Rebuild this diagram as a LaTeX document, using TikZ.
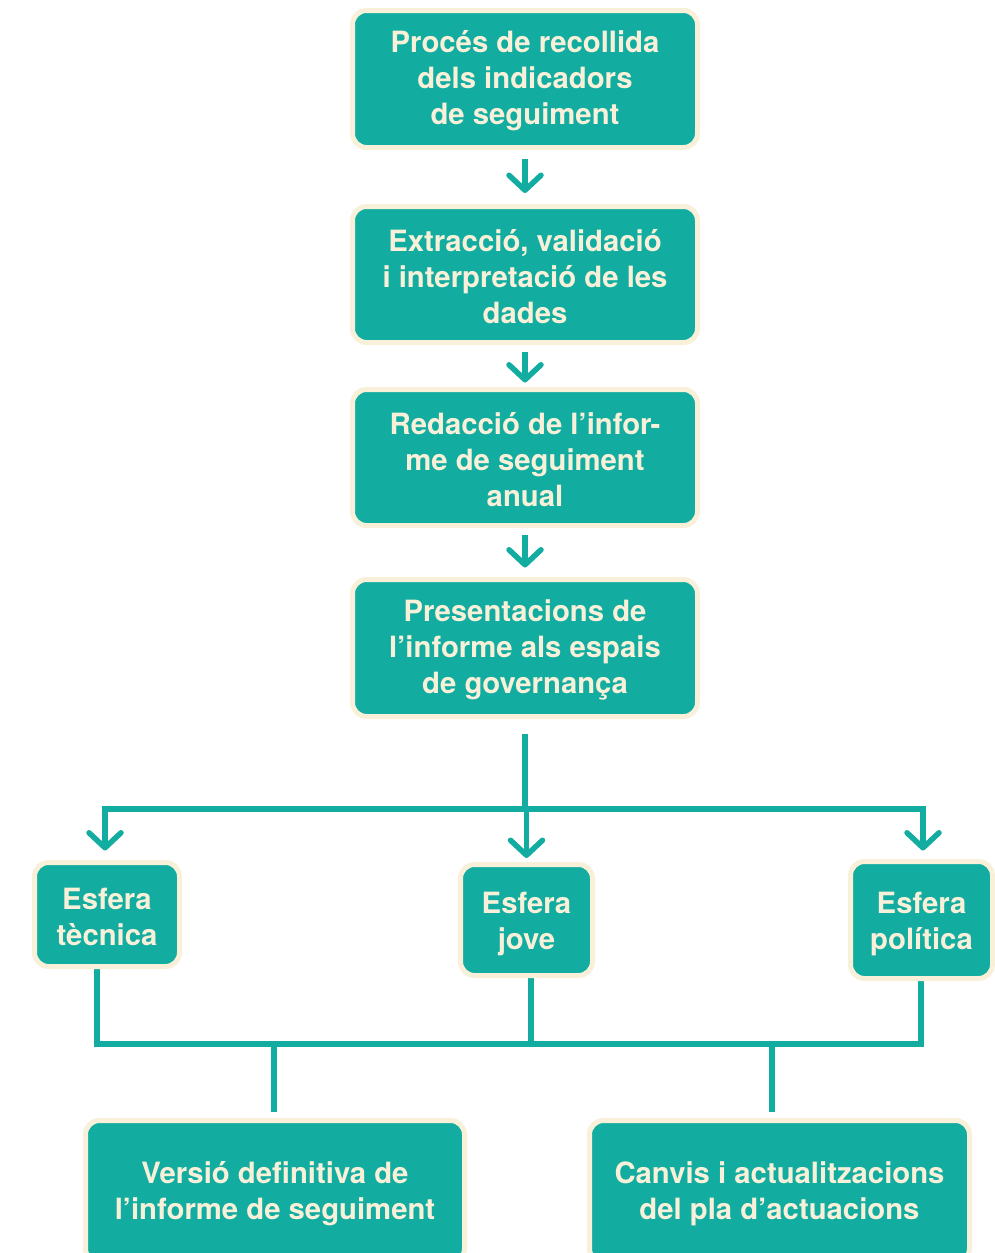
\documentclass[tikz,border=0pt]{standalone}
\usepackage{fontspec}
\setmainfont{TeX Gyre Heros}
\usetikzlibrary{arrows.meta,calc}
\definecolor{teal0}{HTML}{12ADA0}
\definecolor{cream}{HTML}{F8F0D9}
\pgfdeclarelayer{bg}
\pgfsetlayers{bg,main}
\tikzset{
  box/.style={draw=cream, line width=5pt, fill=teal0, rounded corners=14pt,
    inner sep=0pt},
  boxtext/.style={inner sep=0pt, align=center, text=cream, yshift=-2pt,
    font=\fontsize{29.3}{36}\selectfont\bfseries},
  link/.style={draw=teal0, line width=5.5pt},
  flow/.style={link, -{Straight Barb[length=15pt,width=32pt,round]}},
}
\begin{document}
\begin{tikzpicture}[x=1pt,y=-1pt]
\useasboundingbox (0,0) rectangle (995,1253);

% main sequence
\node[box, minimum width=345pt, minimum height=137pt,
  label={[boxtext]center:{Procés de recollida\\dels indicadors\\de seguiment}}]
  (p1) at (525,79) {};
\node[box, minimum width=345pt, minimum height=136pt,
  label={[boxtext]center:{Extracció, validació\\i interpretació de les\\dades}}]
  (p2) at (525,274.5) {};
\node[box, minimum width=345pt, minimum height=136pt,
  label={[boxtext]center:{Redacció de l’infor-\\me de seguiment\\anual}}]
  (p3) at (525,457.5) {};
\node[box, minimum width=345pt, minimum height=137pt,
  label={[boxtext]center:{Presentacions de\\l’informe als espais\\de governança}}]
  (p4) at (525,648) {};

% spheres
\node[box, minimum width=145pt, minimum height=104pt,
  label={[boxtext]center:{Esfera\\tècnica}}]
  (tec) at (107,914.5) {};
\node[box, minimum width=132pt, minimum height=111pt,
  label={[boxtext, yshift=-2.5pt]center:{Esfera\\jove}}]
  (jov) at (526.5,920) {};
\node[box, minimum width=142pt, minimum height=117pt,
  label={[boxtext, yshift=-2.5pt]center:{Esfera\\política}}]
  (pol) at (921.5,920) {};

% outcomes
\node[box, minimum width=379pt, minimum height=142pt,
  label={[boxtext]center:{Versió definitiva de\\l’informe de seguiment}}]
  (ver) at (275,1191.5) {};
\node[box, minimum width=380pt, minimum height=142pt,
  label={[boxtext]center:{Canvis i actualitzacions\\del pla d’actuacions}}]
  (can) at (779.5,1191.5) {};

% bus points
\coordinate (bL) at (105,809);
\coordinate (bM) at (525,809);
\coordinate (bR) at (923,809);
\coordinate (c1) at (97,1044);
\coordinate (c2) at (531,1044);
\coordinate (c3) at (921,1044);
\coordinate (d1) at (274,1044);
\coordinate (d2) at (772,1044);

\begin{pgfonlayer}{bg}
  \fill[white] (0,0) rectangle (995,1253);
  \draw[flow, shorten <=8.5pt, shorten >=11pt] (p1.south) -- (p2.north);
  \draw[flow, shorten <=7pt, shorten >=4.5pt] (p2.south) -- (p3.north);
  \draw[flow, shorten <=6.5pt, shorten >=9.5pt] (p3.south) -- (p4.north);

  \draw[link, shorten <=14.5pt] (p4.south) -- (bM);
  \draw[flow, shorten >=9.5pt] (bM) -- (bL) -- (tec.north -| bL);
  \draw[flow, shorten >=8.5pt] (bM) -- (bR) -- (pol.north -| bR);
  \draw[flow, shorten >=4pt] (jov.north |- bM) -- (jov.north);

  \draw[link] (tec.south -| c1) -- (c1) -- (c3) -- (pol.south -| c3);
  \draw[link] (jov.south -| c2) -- (c2);
  \draw[link, shorten >=6.5pt] (d1) -- (ver.north -| d1);
  \draw[link, shorten >=6.5pt] (d2) -- (can.north -| d2);
\end{pgfonlayer}
\end{tikzpicture}
\end{document}
